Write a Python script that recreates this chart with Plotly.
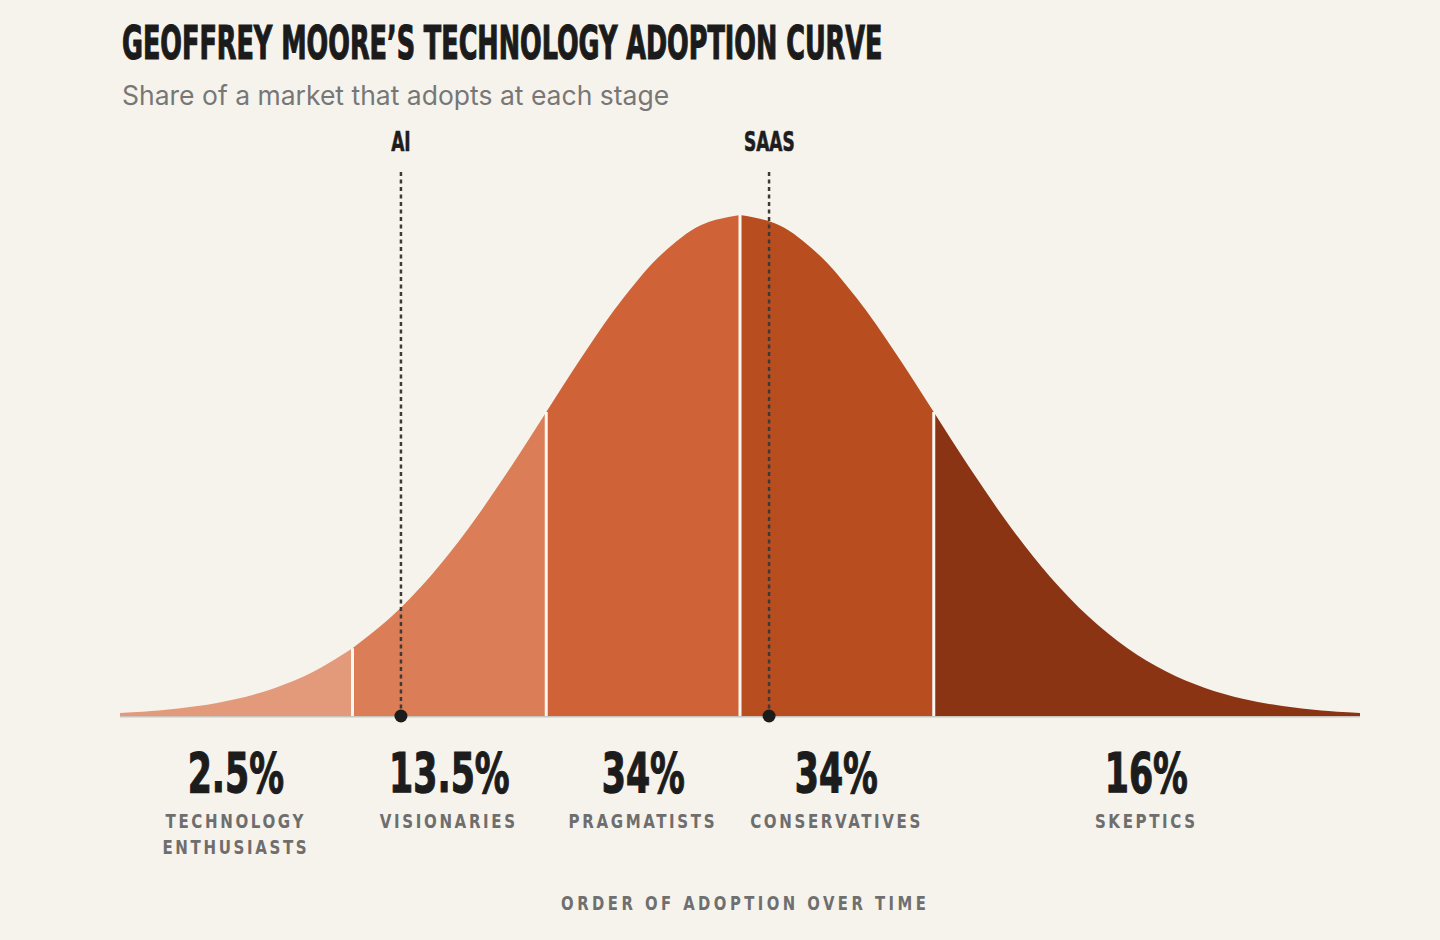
import plotly.graph_objects as go

# ---------------- data ----------------
# curve heights (share density) read along the x axis (x in standard deviations)
curve_x = [-3.2, -3.0, -2.8, -2.6, -2.4, -2.2, -2.0, -1.8, -1.6, -1.4, -1.2, -1.0,
           -0.8, -0.6, -0.4, -0.2, 0.0, 0.2, 0.4, 0.6, 0.8, 1.0, 1.2, 1.4, 1.6,
           1.8, 2.0, 2.2, 2.4, 2.6, 2.8, 3.0, 3.2]
curve_y = [0.0024, 0.0044, 0.0079, 0.0136, 0.0224, 0.0355, 0.0540, 0.0790, 0.1109,
           0.1497, 0.1942, 0.2420, 0.2897, 0.3332, 0.3683, 0.3910, 0.3989, 0.3910,
           0.3683, 0.3332, 0.2897, 0.2420, 0.1942, 0.1497, 0.1109, 0.0790, 0.0540,
           0.0355, 0.0224, 0.0136, 0.0079, 0.0044, 0.0024]

segment_bounds = [-3.2, -2.0, -1.0, 0.0, 1.0, 3.2]
segment_shares = ["2.5%", "13.5%", "34%", "34%", "16%"]
segment_names = ["TECHNOLOGY\nENTHUSIASTS", "VISIONARIES", "PRAGMATISTS",
                 "CONSERVATIVES", "SKEPTICS"]

marker_names = ["AI", "SAAS"]
marker_x = [-1.75, 0.15]

title_text = "GEOFFREY MOORE\u2019S TECHNOLOGY ADOPTION CURVE"
subtitle_text = "Share of a market that adopts at each stage"
axis_text = "ORDER OF ADOPTION OVER TIME"

# ---------------- style ----------------
BG = "#f6f3ec"
SEG_COLORS = ["#e39a7a", "#db7d56", "#cf6236", "#b84d20", "#8a3414"]
SEP_COLOR = "#faf7f2"
TITLE_C = "#1b1b1b"
SHARE_C = "#1c1c1c"
MARK_C = "#1d1d1d"
GRAY = "#6e6e6e"     # segment names
GRAY2 = "#6f6f6f"    # axis caption
COND = "DejaVu Sans Condensed, DejaVu Sans, sans-serif"

W, H = 1440, 940
ML, MR, MT, MB = 120, 80, 110, 200
Y_MIN, Y_MAX = -0.0191, 0.4825
LINE_TOP = 0.4355
LABEL_Y = 0.4578
CAPTION_X = 0.03


def py(px):
    """paper y from a pixel row"""
    return (H - MB - px) / (H - MB - MT)


fig = go.Figure()

# baseline
fig.add_trace(go.Scatter(x=[segment_bounds[0], segment_bounds[-1]], y=[0, 0],
                         mode="lines", line=dict(color="#cbc6bd", width=3),
                         hoverinfo="skip", showlegend=False, cliponaxis=False))

# segment fills
for i in range(len(segment_shares)):
    lo, hi = segment_bounds[i], segment_bounds[i + 1]
    xs = [x for x in curve_x if lo - 1e-9 <= x <= hi + 1e-9]
    ys = [curve_y[curve_x.index(x)] for x in xs]
    fig.add_trace(go.Scatter(x=xs, y=ys, mode="lines", fill="tozeroy",
                             line=dict(width=0, shape="spline", smoothing=1.0, color=SEG_COLORS[i]),
                             fillcolor=SEG_COLORS[i], hoverinfo="skip", showlegend=False))

# separators
for b in segment_bounds[1:-1]:
    h = curve_y[min(range(len(curve_x)), key=lambda k: abs(curve_x[k] - b))]
    fig.add_trace(go.Scatter(x=[b, b], y=[0, h], mode="lines",
                             line=dict(color=SEP_COLOR, width=3),
                             hoverinfo="skip", showlegend=False))

# markers: dashed lines + dots + labels
for name, mx in zip(marker_names, marker_x):
    fig.add_trace(go.Scatter(x=[mx, mx], y=[0, LINE_TOP], mode="lines",
                             line=dict(color="#3e3934", width=2.5, dash="4px,3.5px"),
                             hoverinfo="skip", showlegend=False, cliponaxis=False))
    fig.add_trace(go.Scatter(x=[mx], y=[0], mode="markers",
                             marker=dict(color="#1c1c1c", size=13),
                             hoverinfo="skip", showlegend=False, cliponaxis=False))
    fig.add_annotation(x=mx, y=LABEL_Y, xref="x", yref="y", text=f"<b>{name}</b>",
                       showarrow=False, xanchor="center", yanchor="middle",
                       font=dict(family=COND, size=27, color=MARK_C))

# segment labels
for i, (share, name) in enumerate(zip(segment_shares, segment_names)):
    cx = (segment_bounds[i] + segment_bounds[i + 1]) / 2
    fig.add_annotation(x=cx, y=py(772), xref="x", yref="paper", text=f"<b>{share}</b>",
                       showarrow=False, xanchor="center", yanchor="middle",
                       font=dict(family=COND, size=56, color=SHARE_C))
    for j, line in enumerate(name.split("\n")):
        fig.add_annotation(x=cx, y=py(821 + 26 * j), xref="x", yref="paper",
                           text=f"<b>{line}</b>", showarrow=False,
                           xanchor="center", yanchor="middle",
                           font=dict(family=COND, size=19, color=GRAY))

# axis caption
fig.add_annotation(x=CAPTION_X, y=py(903),
                   xref="x", yref="paper", text=f"<b>{axis_text}</b>", showarrow=False,
                   xanchor="center", yanchor="middle",
                   font=dict(family=COND, size=19, color=GRAY2))

# title + subtitle
fig.add_annotation(x=0, y=py(43), xref="paper", yref="paper", text=f"<b>{title_text}</b>",
                   showarrow=False, xanchor="left", yanchor="middle", align="left",
                   font=dict(family=COND, size=47, color=TITLE_C))
fig.add_annotation(x=0, y=py(95), xref="paper", yref="paper", text=subtitle_text,
                   showarrow=False, xanchor="left", yanchor="middle", align="left",
                   font=dict(family="Inter, Lato, sans-serif", size=26.5, color="#777777"))

fig.update_layout(
    width=W, height=H,
    margin=dict(l=ML, r=MR, t=MT, b=MB),
    paper_bgcolor=BG, plot_bgcolor=BG,
    xaxis=dict(range=[segment_bounds[0], segment_bounds[-1]], visible=False, fixedrange=True),
    yaxis=dict(range=[Y_MIN, Y_MAX], visible=False, fixedrange=True),
    showlegend=False,
)

# condensed display look: horizontal squeeze + letter spacing on the labels
post = """
document.body.style.margin = '0';
document.body.style.background = '%s';
var gd = document.getElementById('{plot_id}');
var rules = {
  'rgb(27, 27, 27)':   {s: 0.603, anchor: 'left',   ls: 0, stroke: 1.2},
  'rgb(28, 28, 28)':   {s: 0.69,  anchor: 'center', ls: 0, stroke: 1.2},
  'rgb(29, 29, 29)':   {s: 0.70,  anchor: 'center', ls: 0, stroke: 0.6},
  'rgb(110, 110, 110)':{s: 0.88,  anchor: 'center', ls: 3, stroke: 0},
  'rgb(111, 111, 111)':{s: 0.867, anchor: 'center', ls: 4, stroke: 0}
};
function squeeze() {
  gd.querySelectorAll('text').forEach(function (t) {
    var r = rules[t.style.fill];
    if (!r) return;
    var old = t.getAttribute('transform') || '';
    if (old.indexOf('scale(') >= 0) return;
    if (r.ls) t.style.letterSpacing = r.ls + 'px';
    if (r.stroke) { t.style.stroke = t.style.fill; t.style.strokeWidth = r.stroke + 'px'; }
    var b = t.getBBox();
    var w = b.width - (r.ls || 0);
    var cx = r.anchor === 'left' ? b.x : b.x + w / 2;
    t.setAttribute('transform', old + ' translate(' + (cx * (1 - r.s)) + ',0) scale(' + r.s + ',1)');
  });
}
squeeze();
gd.on('plotly_afterplot', squeeze);
""" % BG

fig.write_html("out.html", config={"displayModeBar": False}, post_script=post)
